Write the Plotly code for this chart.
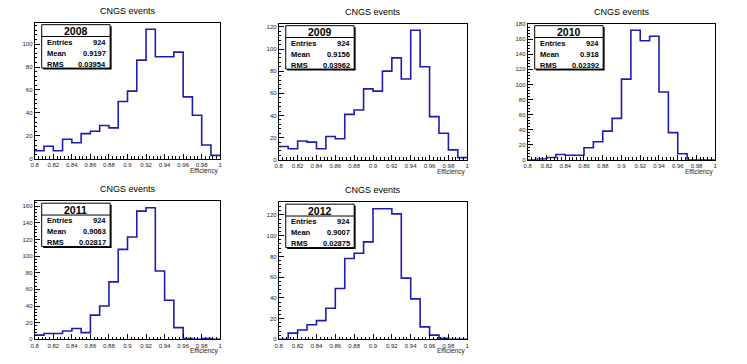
import plotly.graph_objects as go

# efficiency histograms, 20 bins from 0.80 to 1.00
bin_edges = [round(0.80 + 0.01 * i, 2) for i in range(21)]

years = ["2008", "2009", "2010", "2011", "2012"]
counts_2008 = [7, 11, 7, 17, 14, 22, 24, 29, 27, 50, 59, 86, 113, 89, 89, 93, 54, 38, 12, 3]
counts_2009 = [12, 10, 17, 16, 10, 21, 19, 41, 45, 64, 62, 80, 92, 73, 117, 84, 39, 24, 9, 2]
counts_2010 = [0, 1, 3, 7, 6, 6, 16, 24, 38, 55, 107, 172, 158, 164, 90, 36, 8, 0, 0, 0]
counts_2011 = [5, 7, 7, 10, 13, 8, 29, 40, 69, 108, 123, 154, 158, 82, 47, 14, 1, 0, 1, 0]
counts_2012 = [0, 6, 9, 14, 18, 30, 49, 78, 83, 94, 126, 126, 121, 59, 39, 12, 4, 1, 0, 0]
all_counts = [counts_2008, counts_2009, counts_2010, counts_2011, counts_2012]

entries = ["924", "924", "924", "924", "924"]
means = ["0.9197", "0.9156", "0.918", "0.9063", "0.9007"]
rms = ["0.03954", "0.03962", "0.02392", "0.02817", "0.02875"]

W, H = 747, 364
# frame boxes in pixels: left, right, top, bottom
frames = [(31, 218, 21, 159), (277, 467, 22, 160), (528, 717, 22, 160),
          (31, 218, 202, 342), (277, 467, 203, 342)]

def px(x):
    return x / W

def py(y):
    return 1 - y / H

FONT = "Liberation Sans, Arial, sans-serif"
fig = go.Figure()
shapes = []
annots = []

for i, (yr, c) in enumerate(zip(years, all_counts)):
    n = "" if i == 0 else str(i + 1)
    l, r, t, b = frames[i]
    fig.add_trace(go.Scatter(
        x=bin_edges, y=c + [c[-1]], mode="lines", line_shape="hv",
        line=dict(color="#1c1cb0", width=1.6),
        xaxis="x" + n, yaxis="y" + n, showlegend=False, hoverinfo="skip"))

    fig.layout["xaxis" + n] = dict(
        domain=[px(l), px(r)], anchor="y" + n, range=[0.8, 1.0],
        tick0=0.8, dtick=0.02, ticks="inside", ticklen=5, tickwidth=1, tickcolor="black",
        minor=dict(ticks="inside", ticklen=2.5, dtick=0.004, tick0=0.8, tickcolor="black"),
        showline=True, mirror=True, linecolor="black", linewidth=1,
        showgrid=False, zeroline=False,
        tickfont=dict(size=6, family=FONT, color="#222"))
    fig.layout["yaxis" + n] = dict(
        domain=[py(b), py(t)], anchor="x" + n, range=[0, max(c) * 1.05],
        tick0=0, dtick=20, ticks="inside", ticklen=5, tickwidth=1, tickcolor="black",
        minor=dict(ticks="inside", ticklen=2.5, dtick=4, tick0=0, tickcolor="black"),
        showline=True, mirror=True, linecolor="black", linewidth=1,
        showgrid=False, zeroline=False,
        tickfont=dict(size=6, family=FONT, color="#222"))

    # title and axis label
    annots.append(dict(x=px((l + r) / 2), y=py(t - 12), xref="paper", yref="paper",
                       text="CNGS events", showarrow=False, xanchor="center", yanchor="middle",
                       font=dict(size=9, family=FONT, color="black")))
    annots.append(dict(x=px(r), y=py(b + 12), xref="paper", yref="paper",
                       text="Efficiency", showarrow=False, xanchor="right", yanchor="middle",
                       font=dict(size=6.5, family=FONT, color="#222")))

    # stats box
    bx0, bx1, by0, by1 = l + 7, l + 76, t + 2, t + 46
    shapes.append(dict(type="rect", xref="paper", yref="paper",
                       x0=px(bx0 + 1.5), x1=px(bx1 + 1.5), y0=py(by1 + 1.5), y1=py(by0 + 1.5),
                       fillcolor="black", line=dict(width=0)))
    shapes.append(dict(type="rect", xref="paper", yref="paper",
                       x0=px(bx0), x1=px(bx1), y0=py(by1), y1=py(by0),
                       fillcolor="white", line=dict(color="black", width=1)))
    shapes.append(dict(type="line", xref="paper", yref="paper",
                       x0=px(bx0), x1=px(bx1), y0=py(by0 + 12), y1=py(by0 + 12),
                       line=dict(color="black", width=1)))
    annots.append(dict(x=px((bx0 + bx1) / 2), y=py(by0 + 6.5), xref="paper", yref="paper",
                       text="<b>" + yr + "</b>", showarrow=False, xanchor="center", yanchor="middle",
                       font=dict(size=10.5, family=FONT, color="black")))
    for k, (lab, val) in enumerate([("Entries", entries[i]), ("Mean", means[i]), ("RMS", rms[i])]):
        yy = py(by0 + 18 + 11 * k)
        annots.append(dict(x=px(bx0 + 3), y=yy, xref="paper", yref="paper",
                           text="<b>" + lab + "</b>", showarrow=False, xanchor="left", yanchor="middle",
                           font=dict(size=7.5, family=FONT, color="black")))
        annots.append(dict(x=px(bx1 - 2), y=yy, xref="paper", yref="paper",
                           text="<b>" + val + "</b>", showarrow=False, xanchor="right", yanchor="middle",
                           font=dict(size=7.5, family=FONT, color="black")))

fig.update_layout(width=W, height=H, margin=dict(l=0, r=0, t=0, b=0),
                  paper_bgcolor="white", plot_bgcolor="white",
                  shapes=shapes, annotations=annots, showlegend=False)
# the page body has a default 8px margin; remove it so the figure sits at the corner
fig.write_html("out.html", config={"displayModeBar": False},
               post_script="document.body.style.margin='0';document.body.style.overflow='hidden';")
